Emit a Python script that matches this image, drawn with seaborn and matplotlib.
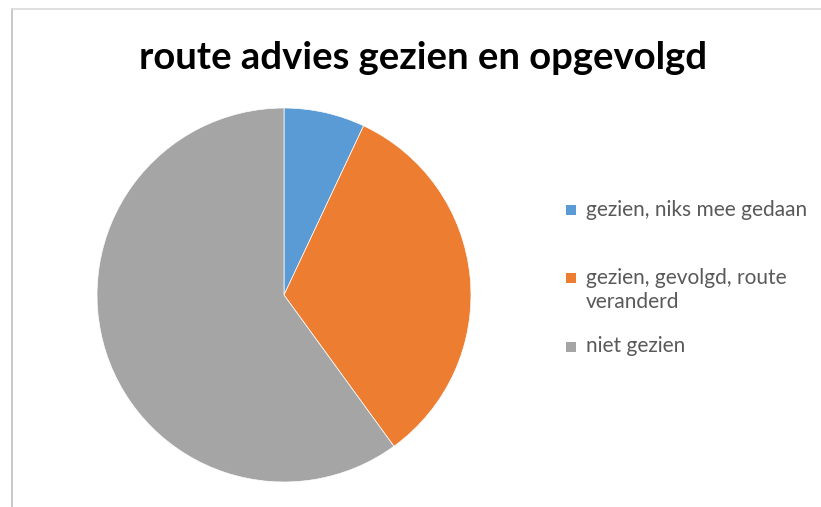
import matplotlib.pyplot as plt
import seaborn as sns
from matplotlib.lines import Line2D
from matplotlib.patches import Rectangle

labels = ["gezien, niks mee gedaan", "gezien, gevolgd, route\nveranderd", "niet gezien"]
values = [7, 33, 60]
colors = ["#5B9BD5", "#ED7D31", "#A5A5A5"]

sns.set_theme(style="white")
plt.rcParams['font.family'] = ['Lato', 'DejaVu Sans']

W, H = 821, 507
fig = plt.figure(figsize=(W / 100, H / 100), dpi=100)
ax = fig.add_axes([97 / W, 25 / H, 374 / W, 374 / H])

palette = sns.color_palette(colors)
wedges, _ = ax.pie(values, colors=palette, startangle=90,
                   counterclock=False, radius=1,
                   wedgeprops=dict(edgecolor="white", linewidth=0.5))
ax.set_aspect("equal")
ax.set_xlim(-1, 1)
ax.set_ylim(-1, 1)

fig.text(423 / W, 1 - 69 / H, "route advies gezien en opgevolgd",
         ha="center", va="baseline", fontsize=27.5, fontweight="bold", color="black")

# legend, drawn by hand so the marker sits on the first text line
legend_y = [210, 278, 347]
for lab, col, y in zip(labels, palette, legend_y):
    fig.add_artist(Rectangle((566 / W, 1 - (y + 5) / H), 10 / W, 10 / H,
                             transform=fig.transFigure, facecolor=col, edgecolor="none"))
    lines = lab.split("\n")
    for i, line in enumerate(lines):
        fig.text(586 / W, 1 - (y + 5.5 + i * 24.5) / H, line,
                 ha="left", va="baseline", fontsize=15, color="#595959")

# chart border (cropped screenshot: only top and left visible)
fig.add_artist(Line2D([12 / W, 12 / W], [0, 1 - 9 / H], color="#BFBFBF", lw=1.2))
fig.add_artist(Line2D([12 / W, 1], [1 - 9 / H, 1 - 9 / H], color="#D9D9D9", lw=1.2))

fig.savefig("out.png", dpi=100)
